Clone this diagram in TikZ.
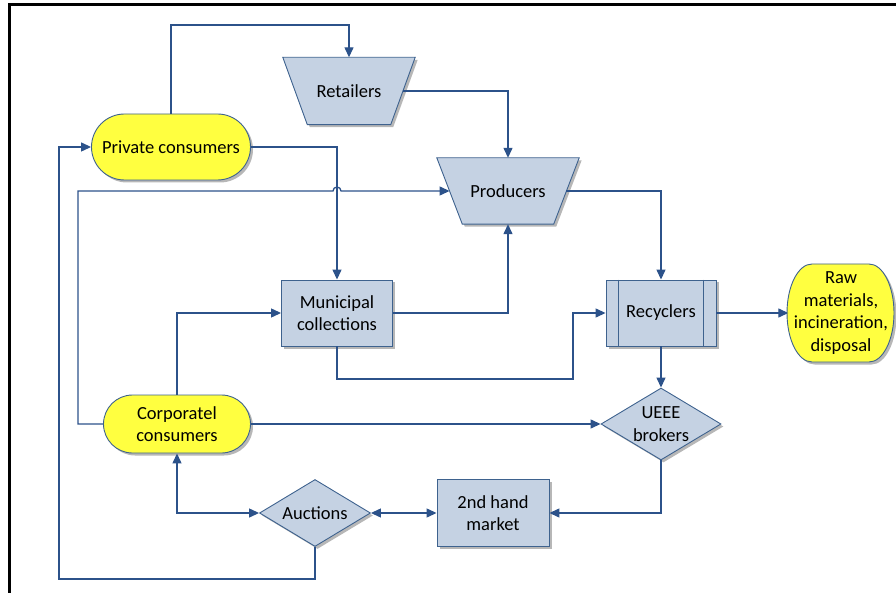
\documentclass[tikz,border=0pt]{standalone}
\usepackage{fontspec}
\setmainfont{Carlito}
\usetikzlibrary{arrows.meta,shapes.geometric,shadows,backgrounds}

\definecolor{linkblue}{RGB}{44,82,138}
\definecolor{boxfill}{RGB}{197,210,227}
\definecolor{boxline}{RGB}{62,98,142}
\definecolor{termfill}{RGB}{255,255,64}

\tikzset{
  txt/.style={font=\fontsize{18.5}{22.5}\selectfont, align=center, inner sep=0pt},
  shade/.style={drop shadow={shadow xshift=2.5pt, shadow yshift=-2.5pt, fill=black!40, opacity=0.7}},
  outline/.style={draw=boxline, line width=0.9pt},
  base/.style={txt, outline, shade},
  procbox/.style={base, rectangle, fill=boxfill},
  decbox/.style={base, diamond, fill=boxfill},
  termbox/.style={base, rectangle, fill=termfill},
  link/.style={draw=linkblue, line width=1.3pt, -{Triangle[length=10pt,width=9pt]}},
  twolink/.style={draw=linkblue, line width=1.3pt, {Triangle[length=10pt,width=9pt]}-{Triangle[length=10pt,width=9pt]}},
}

\begin{document}
\begin{tikzpicture}[x=1pt,y=-1pt]
\useasboundingbox (0,0) rectangle (896,593);

% frame
\draw[line width=3pt] (9,593) -- (9,5) -- (896,5);

% terminators
\node[termbox, rounded corners=33pt, minimum width=159pt, minimum height=66pt] (priv) at (171,147) {Private consumers};
\node[termbox, rounded corners=29pt, minimum width=147pt, minimum height=58pt] (corp) at (177,424) {Corporatel\\consumers};

% raw materials terminator with elliptic ends
\path[fill=termfill, outline, shade]
  (812,264) -- (869,264)
  arc[start angle=90, end angle=-90, x radius=25pt, y radius=49pt]
  -- (812,362)
  arc[start angle=270, end angle=90, x radius=25pt, y radius=49pt] -- cycle;
\node[txt, minimum width=105pt, minimum height=98pt] (raw) at (841,313)
  {Raw\\materials,\\incineration,\\disposal};

% trapezia: the node spans the mid-width, the outline is drawn behind it
\node[txt, minimum width=107.5pt, minimum height=67pt] (ret) at (349,91) {Retailers};
\node[txt, minimum width=116.5pt, minimum height=66pt] (prod) at (508,191) {Producers};
\begin{scope}[on background layer]
  \path[fill=boxfill, outline, shade]
    ([xshift=-12.25pt]ret.north west) -- ([xshift=12.25pt]ret.north east)
    -- ([xshift=-12.25pt]ret.south east) -- ([xshift=12.25pt]ret.south west) -- cycle;
  \path[fill=boxfill, outline, shade]
    ([xshift=-12.75pt]prod.north west) -- ([xshift=12.75pt]prod.north east)
    -- ([xshift=-12.75pt]prod.south east) -- ([xshift=12.75pt]prod.south west) -- cycle;
\end{scope}

% process boxes
\node[procbox, minimum width=111pt, minimum height=66pt] (mun) at (337,313) {Municipal\\collections};
\node[procbox, minimum width=110pt, minimum height=66pt] (rec) at (661,313) {Recyclers};
\draw[outline] ([xshift=13pt]rec.north west) -- ([xshift=13pt]rec.south west);
\draw[outline] ([xshift=-13pt]rec.north east) -- ([xshift=-13pt]rec.south east);
\node[procbox, minimum width=112pt, minimum height=67pt] (mkt) at (493,513) {2nd hand\\market};

% decisions
\node[decbox, minimum width=120pt, minimum height=72pt,
      label={[txt]center:UEEE\\brokers}] (ueee) at (661,424) {};
\node[decbox, minimum width=111pt, minimum height=67pt,
      label={[txt]center:Auctions}] (auc) at (315,513) {};

% connectors
\draw[link] (priv.north) -- (171,25) -| (ret.north);
\draw[link] (ret.east) -| (prod.north);
\draw[link] (priv.east) -| (mun.north);
\draw[link] (corp.west) -- (78,424) -- (78,191) -- (333,191)
  arc[start angle=180, end angle=0, radius=4pt] -- (prod.west);
\draw[link] (mun.east) -| (prod.south);
\draw[link] (prod.east) -| (rec.north);
\draw[link] (mun.south) -- (337,379) -- (573,379) |- (rec.west);
\draw[link] (rec.east) -- (raw.west);
\draw[link] (rec.south) -- (ueee.north);
\draw[link] (corp.east) -- (ueee.west);
\draw[link] (corp.north) |- (mun.west);
\draw[twolink] (corp.south) |- (auc.west);
\draw[twolink] (auc.east) -- (mkt.west);
\draw[link] (ueee.south) |- (mkt.east);
\draw[link] (auc.south) -- (315,579) -- (59,579) |- (priv.west);

\end{tikzpicture}
\end{document}
